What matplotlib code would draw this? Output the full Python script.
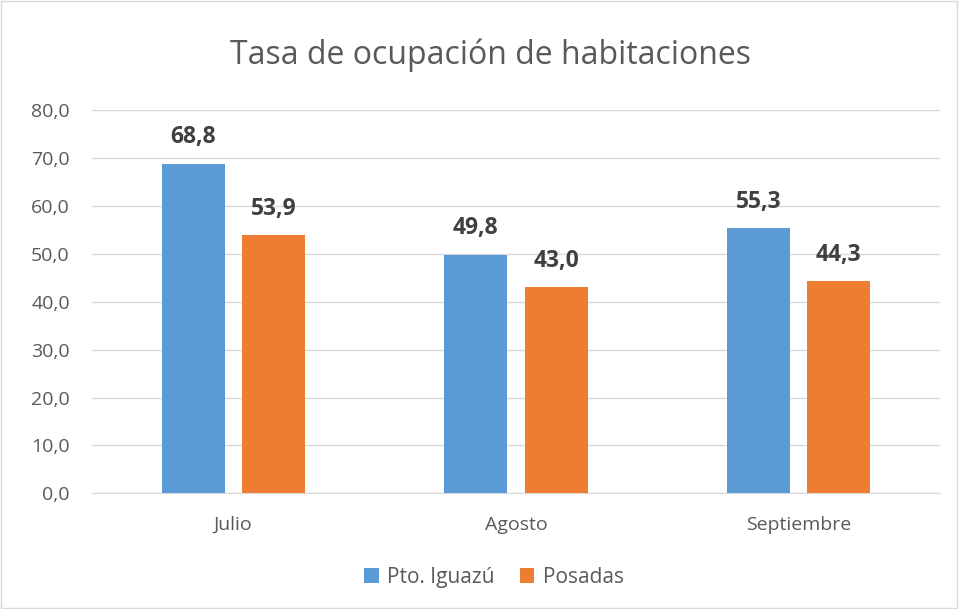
import matplotlib
matplotlib.use("Agg")
import matplotlib.pyplot as plt
import numpy as np
from matplotlib.patches import Rectangle

plt.rcParams['font.family'] = ['Open Sans', 'DejaVu Sans']

months = ["Julio", "Agosto", "Septiembre"]
iguazu = [68.8, 49.8, 55.3]
posadas = [53.9, 43.0, 44.3]
series_names = ["Pto. Iguazú", "Posadas"]
blue = "#5B9BD5"
orange = "#ED7D31"

fig = plt.figure(figsize=(9.59, 6.09), dpi=100)
ax = fig.add_axes([0.096, 0.19, 0.884, 0.629])

x = np.arange(len(months))
w = 0.223
off = 0.142
b1 = ax.bar(x - off, iguazu, w, color=blue, label=series_names[0], zorder=3)
b2 = ax.bar(x + off, posadas, w, color=orange, label=series_names[1], zorder=3)

# etiquetas de valor con coma decimal
for bars, vals in ((b1, iguazu), (b2, posadas)):
    for r, v in zip(bars, vals):
        ax.text(r.get_x() + r.get_width() / 2, v + 3.0, f"{v:.1f}".replace(".", ","),
                ha="center", va="bottom", fontsize=16.5, fontweight="bold", color="#404040")

ax.set_xlim(-0.5, 2.5)
ax.set_ylim(0, 80)
ax.set_yticks(np.arange(0, 81, 10))
ax.set_yticklabels([f"{t:.1f}".replace(".", ",") for t in np.arange(0, 81, 10)])
ax.set_xticks(x)
ax.set_xticklabels(months)
ax.tick_params(axis="both", length=0, labelsize=14, colors="#595959")
ax.tick_params(axis="x", pad=16)
ax.tick_params(axis="y", pad=16)
ax.grid(axis="y", color="#D9D9D9", linewidth=1, zorder=0)
for s in ("top", "right", "left"):
    ax.spines[s].set_visible(False)
ax.spines["bottom"].set_color("#D9D9D9")

fig.text(0.511, 0.91, "Tasa de ocupación de habitaciones", ha="center", va="center",
         fontsize=23, color="#595959")

fig.legend(loc="center", bbox_to_anchor=(0.515, 0.052), ncol=2, frameon=False,
           fontsize=15, handlelength=0.7, handleheight=0.7, columnspacing=1.2,
           handletextpad=0.4, labelcolor="#595959")

fig.patches.append(Rectangle((0.001, 0.001), 0.997, 0.997, transform=fig.transFigure,
                             fill=False, edgecolor="#D9D9D9", linewidth=1))

fig.savefig("out.png", dpi=100)
